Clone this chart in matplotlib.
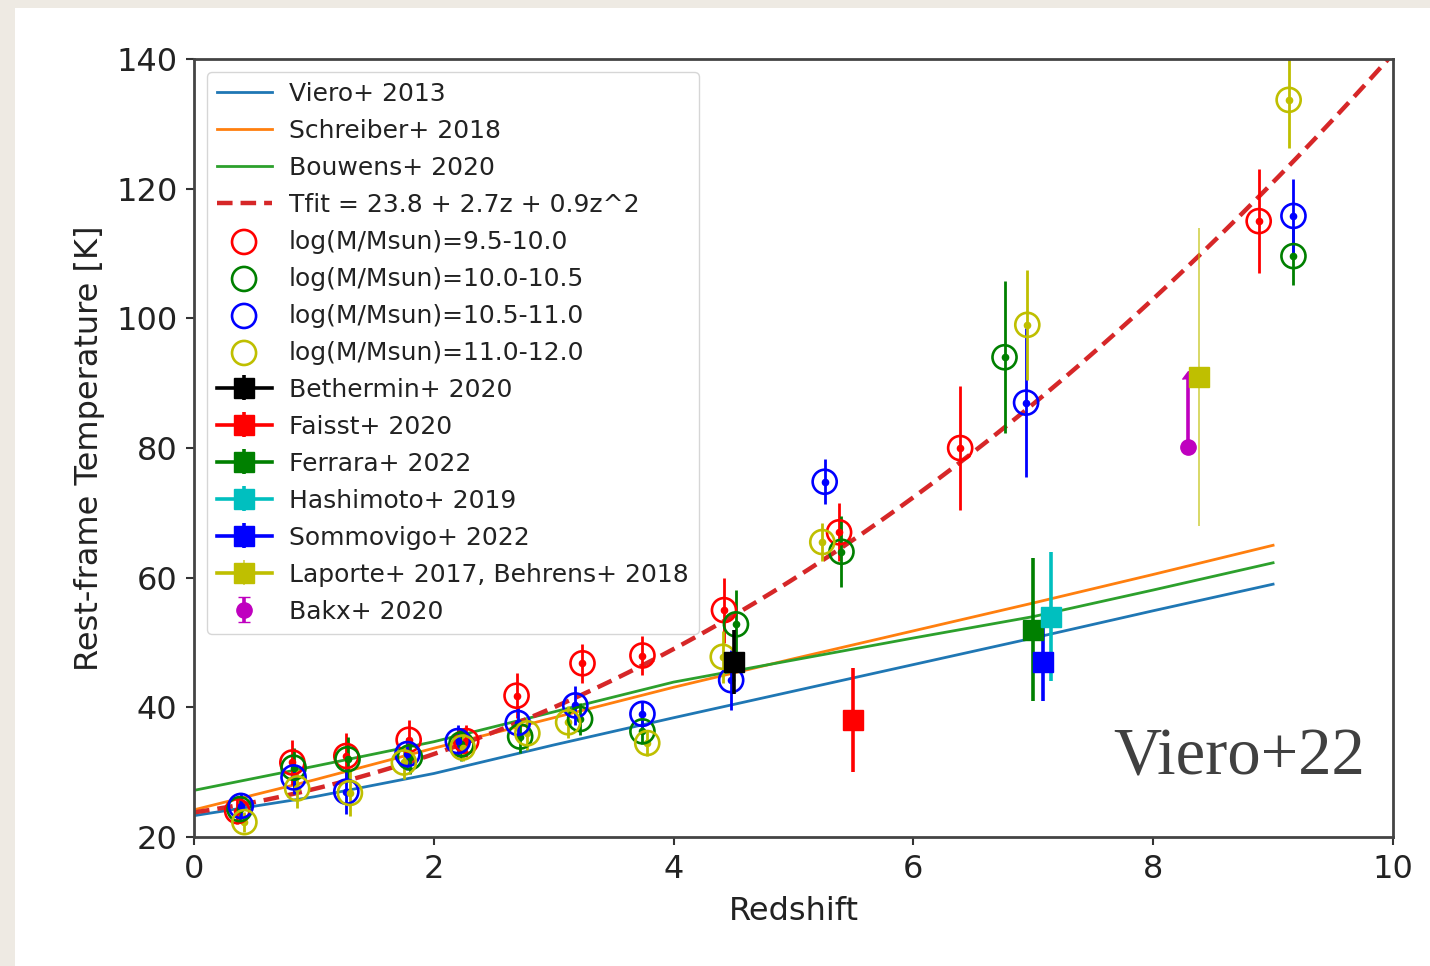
# Dust temperature vs redshift: stacked mass bins, literature points and model lines

import numpy as np
import matplotlib.pyplot as plt
from matplotlib.patches import Rectangle

# model relations, T(z) sampled at integer redshift
z_model = [0, 1, 2, 3, 4, 5, 6, 7, 8, 9]
T_viero13 = [23.3, 26.2, 29.8, 34.2, 38.4, 42.5, 46.6, 50.7, 54.9, 59.0]
T_schreiber18 = [24.2, 28.8, 33.7, 38.4, 43.1, 47.5, 51.8, 56.1, 60.5, 65.0]
T_bouwens20 = [27.2, 30.9, 34.7, 39.3, 43.9, 47.3, 50.7, 54.0, 58.1, 62.3]

# quadratic fit coefficients (constant, linear, quadratic)
fit_coefs = [23.8, 2.7, 0.9]

# stacked mass bins
mass_labels = ['log(M/Msun)=9.5-10.0', 'log(M/Msun)=10.0-10.5',
               'log(M/Msun)=10.5-11.0', 'log(M/Msun)=11.0-12.0']
mass_colors = ['r', 'g', 'b', 'y']

z_bins = [
    [0.36, 0.82, 1.27, 1.79, 2.27, 2.69, 3.24, 3.74, 4.42, 5.38, 6.39, 8.88],
    [0.38, 0.83, 1.28, 1.80, 2.23, 2.72, 3.22, 3.74, 4.52, 5.40, 6.76, 9.17],
    [0.39, 0.83, 1.27, 1.78, 2.20, 2.70, 3.18, 3.74, 4.48, 5.26, 6.94, 9.17],
    [0.42, 0.86, 1.30, 1.75, 2.24, 2.78, 3.12, 3.78, 4.41, 5.24, 6.95, 9.13],
]
T_bins = [
    [24.0, 31.5, 32.5, 35.0, 34.8, 41.8, 46.8, 48.0, 55.0, 67.0, 80.0, 115.0],
    [24.3, 30.7, 32.0, 32.3, 34.3, 35.5, 38.2, 36.3, 52.8, 64.0, 94.0, 109.6],
    [24.8, 29.2, 27.0, 32.8, 34.8, 37.6, 40.3, 39.0, 44.2, 74.8, 87.0, 115.8],
    [22.3, 27.5, 26.8, 31.5, 33.8, 36.0, 37.7, 34.5, 47.8, 65.5, 99.0, 133.7],
]
Terr_bins = [
    [2.0, 3.5, 3.5, 3.0, 2.5, 3.5, 3.0, 3.0, 5.0, 4.5, 9.5, 8.0],
    [2.0, 3.0, 3.5, 2.5, 2.5, 2.5, 2.5, 2.0, 5.3, 5.5, 11.7, 4.5],
    [2.0, 2.5, 3.5, 2.5, 2.5, 2.5, 3.0, 2.0, 4.6, 3.5, 11.5, 5.7],
    [1.5, 3.0, 3.5, 2.5, 2.0, 2.5, 2.5, 2.0, 4.0, 3.0, 8.5, 7.5],
]

# literature measurements
lit_labels = ['Bethermin+ 2020', 'Faisst+ 2020', 'Ferrara+ 2022',
              'Hashimoto+ 2019', 'Sommovigo+ 2022', 'Laporte+ 2017, Behrens+ 2018']
lit_colors = ['k', 'r', 'g', 'c', 'b', 'y']
lit_z = [4.50, 5.50, 7.00, 7.15, 7.08, 8.38]
lit_T = [47.0, 38.0, 52.0, 54.0, 47.0, 91.0]
lit_err = [5.0, 8.0, 11.0, 10.0, 6.0, 23.0]

# lower limit
bakx_z = [8.29]
bakx_T = [80.2]
bakx_err = [10.5]

fig = plt.figure(figsize=(14.3, 9.66), dpi=100)
fig.patch.set_facecolor('#eeeae3')
fig.add_artist(Rectangle((15 / 1430, 0), 1, 1 - 8 / 966, transform=fig.transFigure,
                         facecolor='white', edgecolor='none', zorder=-5))

ax = fig.add_axes([0.1357, 0.1335, 0.8384, 0.8054])

handles = []
h, = ax.plot(z_model, T_viero13, color='C0', lw=2.0, label='Viero+ 2013')
handles.append(h)
h, = ax.plot(z_model, T_schreiber18, color='C1', lw=2.0, label='Schreiber+ 2018')
handles.append(h)
h, = ax.plot(z_model, T_bouwens20, color='C2', lw=2.0, label='Bouwens+ 2020')
handles.append(h)

z_fit = np.linspace(0, 10, 200)
T_fit = np.polyval(fit_coefs[::-1], z_fit)
h, = ax.plot(z_fit, T_fit, color='#d62728', ls='--', lw=3.2, dashes=(3.5, 1.8),
             label='Tfit = 23.8 + 2.7z + 0.9z^2')
handles.append(h)

for zs, Ts, errs, col, lab in zip(z_bins, T_bins, Terr_bins, mass_colors, mass_labels):
    ax.errorbar(zs, Ts, yerr=errs, fmt='.', color=col, ms=9, elinewidth=2.0, capsize=0)
    h = ax.scatter(zs, Ts, s=300, facecolors='none', edgecolors=col, linewidths=1.9,
                   label=lab, zorder=3)
    handles.append(h)

for zv, Tv, ev, col, lab in zip(lit_z, lit_T, lit_err, lit_colors, lit_labels):
    lw = 1.4 if col == 'y' else 2.6
    h = ax.errorbar([zv], [Tv], yerr=[ev], fmt='s-', color=col, ms=14, lw=2.6,
                    elinewidth=lw, capsize=0, label=lab, zorder=4)
    if col == 'y':
        h[2][0].set_alpha(0.6)
    handles.append(h)

h = ax.errorbar(bakx_z, bakx_T, yerr=bakx_err, lolims=True, fmt='o', color='m',
                ms=11, elinewidth=2.6, capsize=4, label='Bakx+ 2020', zorder=4)
handles.append(h)

ax.set_xlim(0, 10)
ax.set_ylim(20, 140)
ax.set_xticks([0, 2, 4, 6, 8, 10])
ax.set_yticks([20, 40, 60, 80, 100, 120, 140])
ax.tick_params(labelsize=23, length=6, width=1.5, pad=6, colors='#333333',
               labelcolor='#222222')
for sp in ax.spines.values():
    sp.set_linewidth(2.0)
    sp.set_color('#444444')

ax.set_xlabel('Redshift', fontsize=23, color='#222222', labelpad=8)
ax.set_ylabel('Rest-frame Temperature [K]', fontsize=23, color='#222222', labelpad=8)

leg = ax.legend(handles=handles, loc='upper left', fontsize=18, labelspacing=0.52,
                handlelength=2.2, handletextpad=0.7, borderaxespad=0.5,
                scatterpoints=1)
for t in leg.get_texts():
    t.set_color('#222222')

fig.text(1365 / 1430, 1 - 775 / 966, 'Viero+22', ha='right', va='baseline',
         fontsize=48, family='Liberation Serif', color='#404040')

fig.savefig('out.png', dpi=100, facecolor=fig.get_facecolor())
